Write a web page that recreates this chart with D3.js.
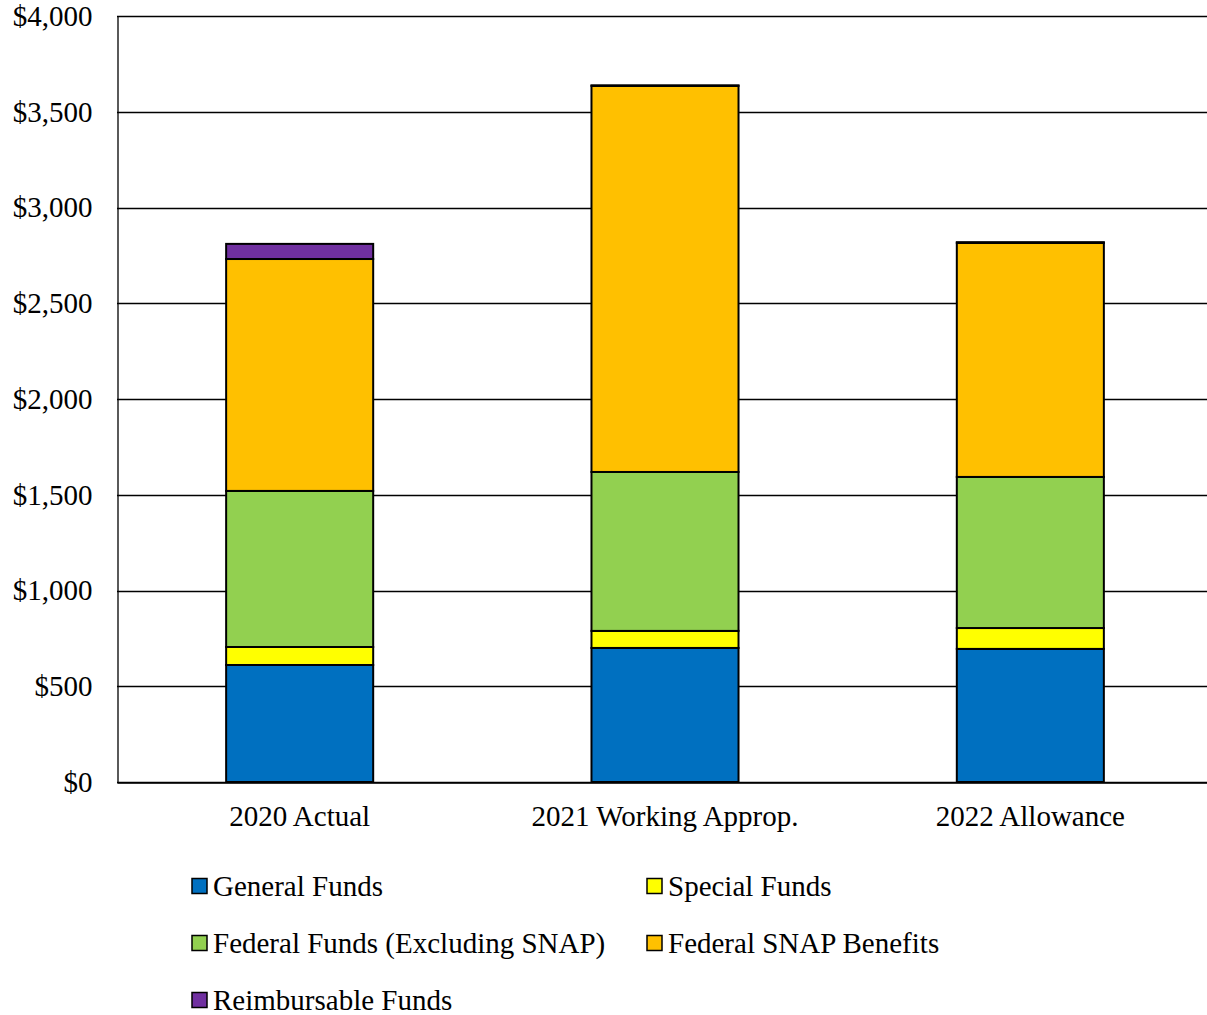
<!DOCTYPE html>
<html>
<head>
<meta charset="utf-8">
<script src="https://cdn.jsdelivr.net/npm/d3@7"></script>
<style>
  html, body { margin: 0; padding: 0; background: #fff; }
  svg { display: block; font-family: "Liberation Serif", "Times New Roman", serif; }
</style>
</head>
<body>
<svg id="chart" width="1207" height="1015"></svg>
<script>
// Fiscal years shown on the x axis
const categories = ["2020 Actual", "2021 Working Approp.", "2022 Allowance"];

// Funding by source, $ millions
const generalFunds   = [611, 700, 695];
const specialFunds   = [94, 89, 109];
const federalFunds   = [815, 830, 789];
const snapBenefits   = [1211, 2016, 1222];
const reimbursable   = [79, 3, 4];

const seriesNames  = ["General Funds", "Special Funds", "Federal Funds (Excluding SNAP)", "Federal SNAP Benefits", "Reimbursable Funds"];
const seriesColors = ["#0070C0", "#FFFF00", "#92D050", "#FFC000", "#7030A0"];
const yTicks = [0, 500, 1000, 1500, 2000, 2500, 3000, 3500, 4000];

const seriesValues = [generalFunds, specialFunds, federalFunds, snapBenefits, reimbursable];
const rows = categories.map((c, i) => {
  const r = { category: c };
  seriesNames.forEach((s, j) => { r[s] = seriesValues[j][i]; });
  return r;
});

const svg = d3.select("#chart");
const W = 1207, H = 1015;
const plotLeft = 117, plotTop = 16, plotBottom = 782;
const FONT = "Liberation Serif, Times New Roman, serif";

// The category band runs slightly past the right edge of the page
const x = d3.scaleBand().domain(categories).range([plotLeft, 1213]).padding(0);
const y = d3.scaleLinear().domain([0, 4000]).range([plotBottom, plotTop]);
const barW = x.bandwidth() * 0.4025;

// Gridlines
svg.append("g")
  .selectAll("line")
  .data(yTicks)
  .join("line")
  .attr("x1", plotLeft).attr("x2", W)
  .attr("y1", d => Math.round(y(d)) + 0.5).attr("y2", d => Math.round(y(d)) + 0.5)
  .attr("stroke", "#000").attr("stroke-width", 1.3);

// Y axis
const yAxis = d3.axisLeft(y).tickValues(yTicks).tickSize(0).tickPadding(25)
  .tickFormat(d => "$" + d3.format(",")(d));
svg.append("g")
  .attr("transform", `translate(${plotLeft + 0.5},0)`)
  .call(yAxis)
  .call(g => g.select(".domain").attr("stroke", "#000").attr("stroke-width", 1.3))
  .call(g => g.selectAll("text").attr("font-size", 29).attr("fill", "#000")
    .attr("font-family", FONT));

// X axis
const xAxis = d3.axisBottom(x).tickSize(0).tickPadding(23);
svg.append("g")
  .attr("transform", `translate(0,${plotBottom + 0.5})`)
  .call(xAxis)
  .call(g => g.select(".domain").attr("stroke", "#000").attr("stroke-width", 1.3))
  .call(g => g.selectAll("text").attr("font-size", 29).attr("fill", "#000")
    .attr("font-family", FONT));

// Stacked bars
const stack = d3.stack().keys(seriesNames);
const layers = stack(rows);
svg.append("g")
  .selectAll("g")
  .data(layers)
  .join("g")
  .attr("fill", (d, i) => seriesColors[i])
  .selectAll("rect")
  .data(d => d)
  .join("rect")
  .attr("x", d => x(d.data.category) + (x.bandwidth() - barW) / 2)
  .attr("width", barW)
  .attr("y", d => y(d[1]))
  .attr("height", d => y(d[0]) - y(d[1]))
  .attr("stroke", "#000")
  .attr("stroke-width", 2);

// Legend
const legendPos = [
  [192, 886], [647, 886],
  [192, 943], [647, 943],
  [192, 1000]
];
const legend = svg.append("g")
  .selectAll("g")
  .data(seriesNames)
  .join("g")
  .attr("transform", (d, i) => `translate(${legendPos[i][0]},${legendPos[i][1]})`);
legend.append("rect")
  .attr("x", 0).attr("y", -7.5).attr("width", 15).attr("height", 15)
  .attr("fill", (d, i) => seriesColors[i])
  .attr("stroke", "#000").attr("stroke-width", 1.5);
legend.append("text")
  .attr("x", 21).attr("y", 0).attr("dy", "0.35em")
  .attr("font-size", 29).attr("fill", "#000")
  .attr("font-family", FONT)
  .text(d => d);
</script>
</body>
</html>
